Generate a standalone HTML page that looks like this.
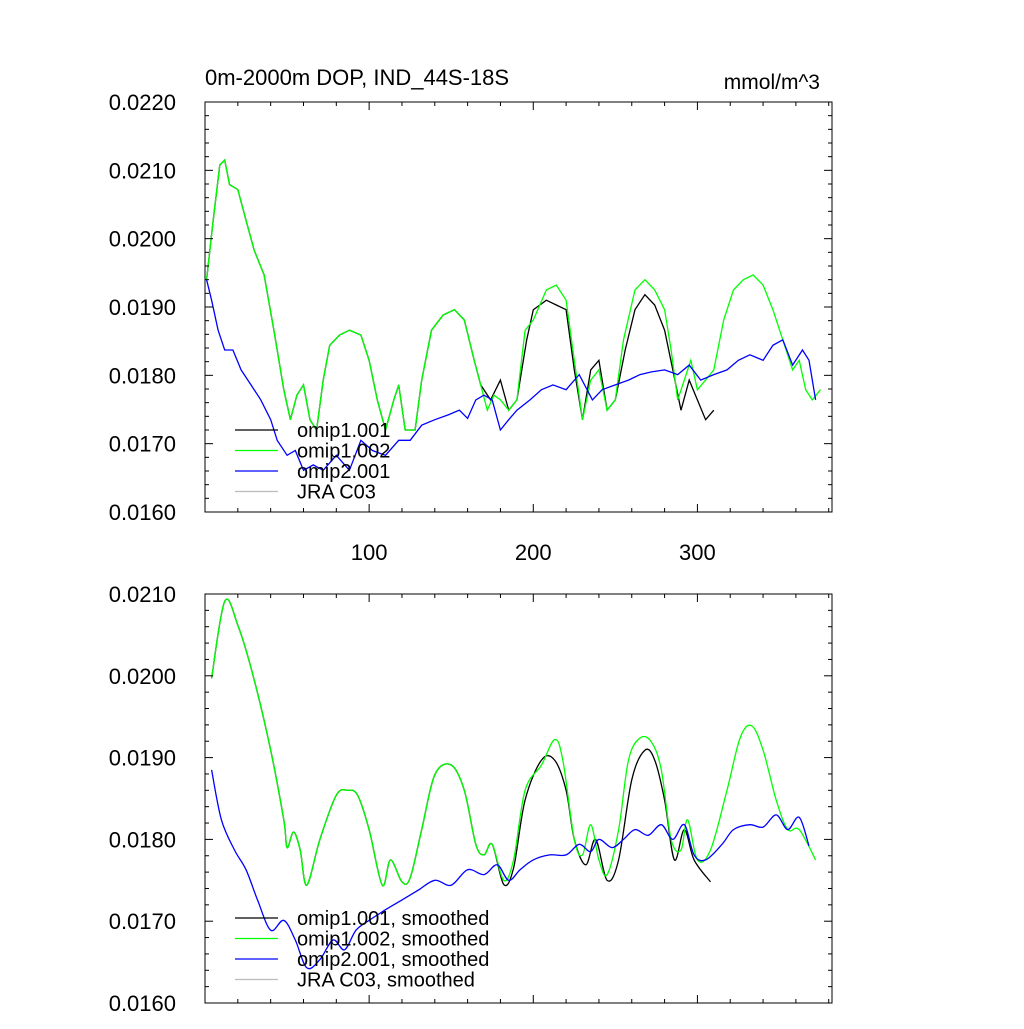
<!DOCTYPE html>
<html><head><meta charset="utf-8"><style>
body{margin:0;background:#fff;}
svg text{font-family:"Liberation Sans",sans-serif;fill:#000;}
</style></head><body>
<svg id="chart" width="1024" height="1024" xmlns="http://www.w3.org/2000/svg"></svg>
<script>
// ---- data: top panel (raw) ----
const topGreenX=[1,5,9,12,15,20,25,30,36,42,48,52,56,60,64,68,72,76,82,88,95,100,105,110,115,118,122,128,132,138,145,152,158,164,168,172,176,180,185,190,195,200,208,214,220,225,230,235,240,245,250,255,262,268,274,280,284,288,292,296,300,305,310,316,322,328,334,340,346,352,358,362,366,370,375];
const topGreenY=[0.0194,0.02027,0.02108,0.02115,0.02079,0.02072,0.02027,0.01983,0.01947,0.01866,0.01779,0.01735,0.01771,0.01786,0.01735,0.0172,0.01793,0.01844,0.01859,0.01866,0.01859,0.01822,0.01764,0.0172,0.01764,0.01786,0.0172,0.0172,0.01793,0.01866,0.01888,0.01896,0.01881,0.01822,0.01786,0.01749,0.01771,0.01764,0.01749,0.01764,0.01866,0.01881,0.01925,0.01932,0.0191,0.01822,0.01735,0.01793,0.01808,0.01749,0.01764,0.01852,0.01925,0.0194,0.01925,0.01896,0.01837,0.01764,0.01793,0.01822,0.01779,0.01793,0.01808,0.01881,0.01925,0.0194,0.01947,0.01932,0.01896,0.01852,0.01808,0.01822,0.01779,0.01764,0.01779];
const topBlackX=[1,5,9,12,15,20,25,30,36,42,48,52,56,60,64,68,72,76,82,88,95,100,105,110,115,118,122,128,132,138,145,152,158,164,168,174,180,185,190,196,200,208,214,220,225,230,235,240,245,250,256,262,268,274,280,285,290,295,300,305,310];
const topBlackY=[0.0194,0.02027,0.02108,0.02115,0.02079,0.02072,0.02027,0.01983,0.01947,0.01866,0.01779,0.01735,0.01771,0.01786,0.01735,0.0172,0.01793,0.01844,0.01859,0.01866,0.01859,0.01822,0.01764,0.0172,0.01764,0.01786,0.0172,0.0172,0.01793,0.01866,0.01888,0.01896,0.01881,0.01822,0.01786,0.01764,0.01793,0.01749,0.01764,0.01852,0.01896,0.0191,0.01903,0.01896,0.01808,0.01735,0.01808,0.01822,0.01749,0.01764,0.01837,0.01896,0.01918,0.01903,0.01866,0.01808,0.01749,0.01793,0.01764,0.01735,0.01749];
const topBlueX=[1,4,8,12,17,22,28,34,40,44,50,55,60,66,72,80,88,95,102,110,118,125,132,140,148,155,160,165,170,175,180,185,190,198,205,212,220,228,236,242,250,258,265,272,280,288,295,302,310,318,325,332,340,346,352,358,364,368,372];
const topBlueY=[0.0194,0.0191,0.01866,0.01837,0.01837,0.01808,0.01786,0.01764,0.01735,0.01705,0.01683,0.0169,0.01661,0.01669,0.01661,0.01683,0.01661,0.01705,0.0169,0.01683,0.01705,0.01705,0.01727,0.01735,0.01742,0.01749,0.01737,0.01764,0.01771,0.01764,0.0172,0.01735,0.01749,0.01764,0.01779,0.01786,0.01779,0.01801,0.01764,0.01779,0.01786,0.01793,0.01801,0.01805,0.01808,0.01801,0.01815,0.01793,0.01801,0.01808,0.01822,0.0183,0.01822,0.01844,0.01852,0.01815,0.01837,0.01822,0.01764];
// ---- data: bottom panel (smoothed) ----
const botGreenX=[4,12,20,30,40,48,50,54,58,62,70,80,87,93,100,108,113,120,125,132,140,150,158,165,170,175,182,188,195,205,213,218,225,230,235,240,245,252,258,265,272,278,284,290,294,300,308,318,326,333,340,348,355,362,372];
const botGreenY=[0.01997,0.02091,0.02062,0.01995,0.01909,0.01824,0.0179,0.01809,0.01787,0.01744,0.018,0.01854,0.0186,0.01854,0.01812,0.01744,0.01775,0.01748,0.01753,0.01812,0.01879,0.01891,0.0186,0.01794,0.01781,0.01794,0.0175,0.01775,0.0186,0.01891,0.01922,0.01897,0.018,0.01781,0.01818,0.01775,0.01757,0.01812,0.01897,0.01924,0.01919,0.01885,0.018,0.01787,0.01824,0.01775,0.01787,0.0186,0.01924,0.01939,0.01909,0.01848,0.01812,0.01812,0.01775];
const botBlackX=[4,12,20,30,40,48,50,54,58,62,70,80,87,93,100,108,113,120,125,132,140,150,158,165,170,175,182,188,195,205,213,220,225,232,238,245,252,260,268,274,280,286,292,298,308];
const botBlackY=[0.01997,0.02091,0.02062,0.01995,0.01909,0.01824,0.0179,0.01809,0.01787,0.01744,0.018,0.01854,0.0186,0.01854,0.01812,0.01744,0.01775,0.01748,0.01753,0.01812,0.01879,0.01891,0.0186,0.01794,0.01781,0.01794,0.01745,0.01765,0.01848,0.01897,0.01897,0.0186,0.018,0.01769,0.018,0.0175,0.01775,0.01873,0.01909,0.01897,0.01848,0.01775,0.01812,0.01775,0.01748];
const botBlueX=[4,10,18,25,32,40,48,55,62,70,78,85,92,100,110,120,130,140,150,160,170,178,185,192,200,210,220,228,235,240,248,255,262,270,278,285,292,298,305,315,322,332,340,348,355,362,368];
const botBlueY=[0.01885,0.01824,0.01787,0.01763,0.01726,0.01689,0.01701,0.01677,0.01643,0.01653,0.01677,0.01665,0.01689,0.01701,0.01714,0.01726,0.01738,0.0175,0.01744,0.01763,0.01757,0.01769,0.0175,0.01763,0.01775,0.01781,0.01781,0.01794,0.01785,0.018,0.0179,0.018,0.01812,0.01805,0.01818,0.018,0.01818,0.01781,0.01775,0.01794,0.01812,0.01818,0.01815,0.0183,0.01812,0.01827,0.01792];
const xTicks=[100,200,300];
const topYTicks=[0.016,0.017,0.018,0.019,0.020,0.021,0.022];
const botYTicks=[0.016,0.017,0.018,0.019,0.020,0.021];
const topLegend=["omip1.001","omip1.002","omip2.001","JRA C03"];
const botLegend=["omip1.001, smoothed","omip1.002, smoothed","omip2.001, smoothed","JRA C03, smoothed"];
const colors=["#000","#00ff00","#0000ff","#bbb"];

const svg=document.getElementById('chart');
const NS="http://www.w3.org/2000/svg";
function mk(tag,attrs,parent){const e=document.createElementNS(NS,tag);for(const k in attrs)e.setAttribute(k,attrs[k]);(parent||svg).appendChild(e);return e;}
const X0=205,X1=832,XMIN=0,XMAX=382;
function sx(t){return X0+(t-XMIN)/(XMAX-XMIN)*(X1-X0);}
function smoothPath(P){
  let d='M'+P[0][0].toFixed(1)+','+P[0][1].toFixed(1);
  for(let i=0;i<P.length-1;i++){
    const p0=P[Math.max(0,i-1)],p1=P[i],p2=P[i+1],p3=P[Math.min(P.length-1,i+2)];
    const c1x=p1[0]+(p2[0]-p0[0])/6,c1y=p1[1]+(p2[1]-p0[1])/6;
    const c2x=p2[0]-(p3[0]-p1[0])/6,c2y=p2[1]-(p3[1]-p1[1])/6;
    d+='C'+c1x.toFixed(1)+','+c1y.toFixed(1)+' '+c2x.toFixed(1)+','+c2y.toFixed(1)+' '+p2[0].toFixed(1)+','+p2[1].toFixed(1);
  }
  return d;
}

function panel(name,top,bot,ymin,ymax,yticks,series,legend,legY,showX,smooth){
  const g=mk('g',{});
  
  
  const sy=v=>bot-(v-ymin)/(ymax-ymin)*(bot-top);
  series.forEach((s,i)=>{
    const P=s.x.map((t,j)=>[sx(t),sy(s.y[j])]);
    const d=smooth?smoothPath(P):P.map((p,j)=>(j?'L':'M')+p[0].toFixed(1)+','+p[1].toFixed(1)).join('');
    const p=mk('path',{d:d,fill:'none',stroke:s.c,'stroke-width':1.3},g);
    
    
  });
  const f=mk('rect',{x:X0,y:top,width:X1-X0,height:bot-top,fill:'none',stroke:'#000','stroke-width':1},g);
  
  
  for(let v=ymin;v<=ymax+1e-9;v+=0.0002){
    const y=sy(v);const maj=Math.abs(Math.round(v*1000)-v*1000)<1e-6;
    const L=maj?8:4;
    mk('line',{x1:X0,x2:X0+L,y1:y,y2:y,stroke:'#000'},g);
    mk('line',{x1:X1,x2:X1-L,y1:y,y2:y,stroke:'#000'},g);
  }
  yticks.forEach(v=>{
    const t=mk('text',{x:176,y:sy(v)+8,'text-anchor':'end','font-size':22},g);
    t.textContent=v.toFixed(4);
    
    
  });
  for(let t=20;t<XMAX;t+=20){
    const x=sx(t);const maj=t%100===0;const L=maj?8:4;
    mk('line',{x1:x,x2:x,y1:bot,y2:bot-L,stroke:'#000'},g);
    mk('line',{x1:x,x2:x,y1:top,y2:top+L,stroke:'#000'},g);
  }
  if(showX) xTicks.forEach(t=>{
    const e=mk('text',{x:sx(t),y:bot+48,'text-anchor':'middle','font-size':22},g);
    e.textContent=t;
    
    
  });
  legend.forEach((lab,i)=>{
    const y=legY+i*20.5;
    const l=mk('line',{x1:235,x2:278,y1:y,y2:y,stroke:colors[i],'stroke-width':1.3},g);
    
    
    const e=mk('text',{x:297,y:y+7,'font-size':20},g);
    e.textContent=lab;
    
    
  });
}
panel('top-panel',102,512,0.016,0.022,topYTicks,[
 {x:topBlackX,y:topBlackY,c:'#000',n:'omip1-001-line'},
 {x:topGreenX,y:topGreenY,c:'#00ff00',n:'omip1-002-line'},
 {x:topBlueX,y:topBlueY,c:'#0000ff',n:'omip2-001-line'}],topLegend,430,true,false);
panel('bottom-panel',594,1003,0.016,0.021,botYTicks,[
 {x:botBlackX,y:botBlackY,c:'#000',n:'omip1-001-smoothed-line'},
 {x:botGreenX,y:botGreenY,c:'#00ff00',n:'omip1-002-smoothed-line'},
 {x:botBlueX,y:botBlueY,c:'#0000ff',n:'omip2-001-smoothed-line'}],botLegend,918,false,true);
const t1=mk('text',{x:205,y:85,'font-size':22});t1.textContent='0m-2000m DOP, IND_44S-18S';


const t2=mk('text',{x:820,y:89,'font-size':21,'text-anchor':'end'});t2.textContent='mmol/m^3';


</script>
</body></html>
